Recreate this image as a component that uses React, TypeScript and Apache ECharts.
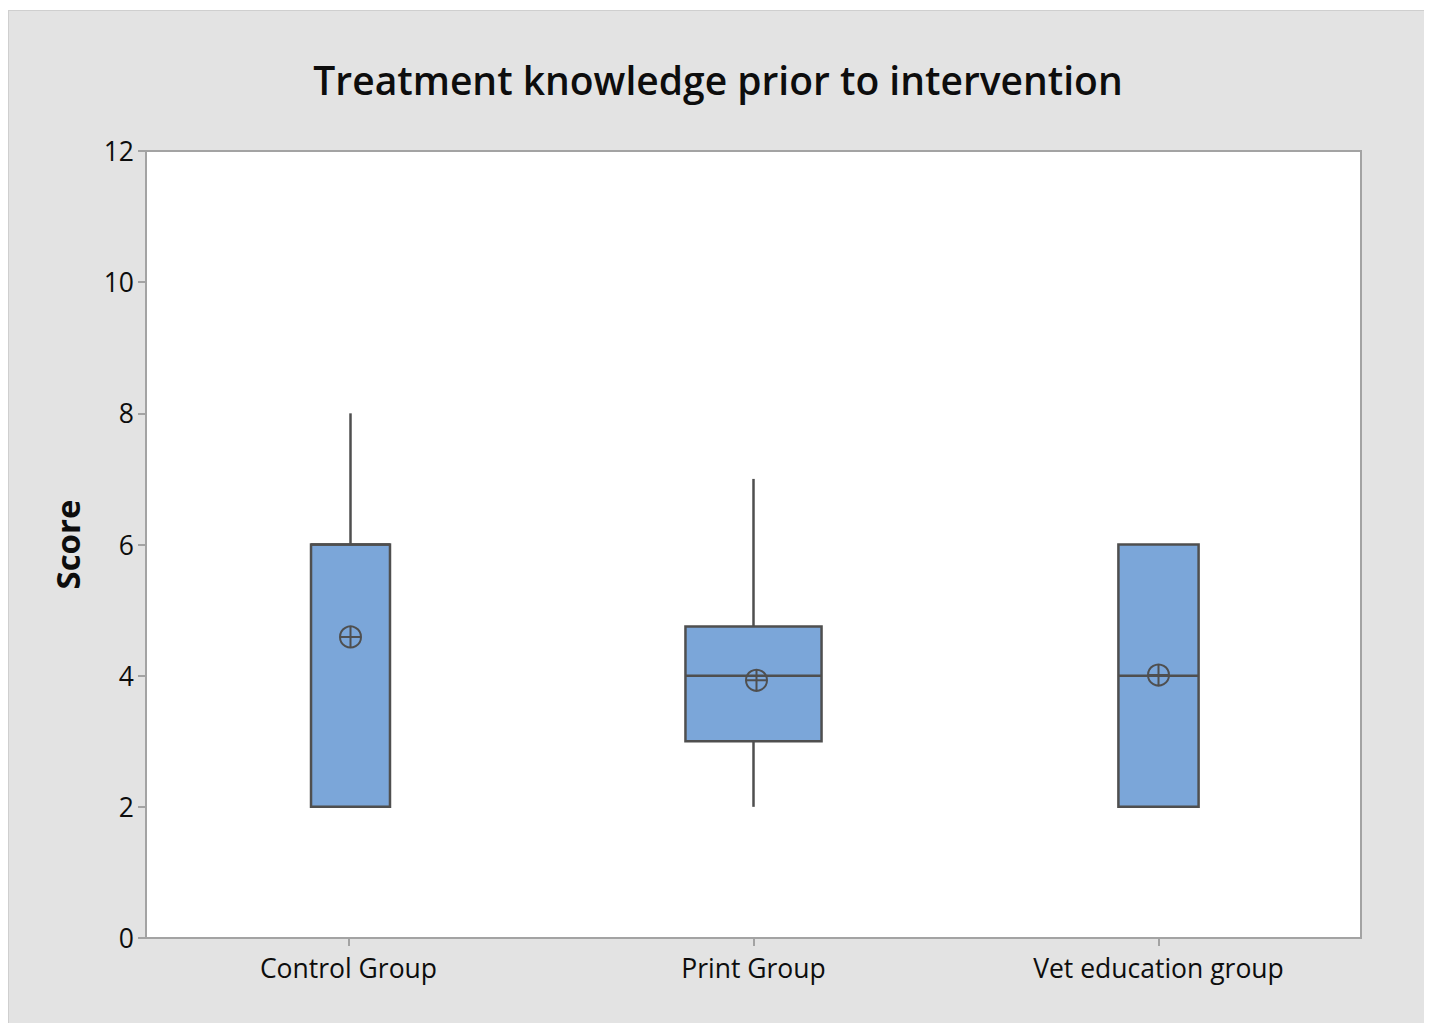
import React, { useEffect, useRef } from "react";
import * as echarts from "echarts";

const categories = ["Control Group", "Print Group", "Vet education group"];
// five-number summaries and means
const minValues = [2, 2, 2];
const q1Values = [2, 3, 2];
const medianValues = [6, 4, 4];
const q3Values = [6, 4.75, 6];
const maxValues = [8, 7, 6];
const meanValues = [4.59, 3.93, 4.01];
const yTicks = [0, 2, 4, 6, 8, 10, 12];

// box widths as a share of the category band (style only)
const boxShare = [0.195, 0.336, 0.198];

const FONT = "'Open Sans', 'Noto Sans', sans-serif";
const STROKE = "#4f4f4f";
const FILL = "#7ba6d9";

export default function App() {
  const ref = useRef<HTMLDivElement>(null);
  useEffect(() => {
    document.body.style.overflow = "hidden";
    if (!ref.current) return;
    const chart = echarts.init(ref.current, undefined, { renderer: "svg" });
    const data = categories.map((_, i) => [
      i,
      minValues[i],
      q1Values[i],
      medianValues[i],
      q3Values[i],
      maxValues[i],
      meanValues[i],
    ]);
    chart.setOption({
      animation: false,
      backgroundColor: "#e3e3e3",
      textStyle: { fontFamily: FONT },
      title: {
        text: "Treatment knowledge prior to intervention",
        left: "center",
        top: 44,
        textStyle: { fontFamily: FONT, fontSize: 39, fontWeight: 600, color: "#0d0d0d" },
      },
      grid: {
        left: 137,
        top: 140,
        width: 1215,
        height: 787,
        show: true,
        backgroundColor: "#ffffff",
        borderColor: "#a3a3a3",
        borderWidth: 2,
      },
      xAxis: {
        type: "category",
        data: categories,
        boundaryGap: true,
        axisLine: { show: true, lineStyle: { color: "#a3a3a3", width: 2 } },
        axisTick: { show: true, alignWithLabel: true, length: 8, lineStyle: { color: "#a3a3a3", width: 2 } },
        axisLabel: { color: "#0d0d0d", fontSize: 26.5, fontFamily: FONT, margin: 16 },
        splitLine: { show: false },
      },
      yAxis: {
        type: "value",
        min: 0,
        max: 12,
        interval: 2,
        name: "Score",
        nameLocation: "middle",
        nameGap: 62,
        nameTextStyle: { fontSize: 33, fontWeight: "bold", color: "#0d0d0d", fontFamily: FONT },
        axisLine: { show: true, lineStyle: { color: "#a3a3a3", width: 2 } },
        axisTick: { show: true, length: 8, lineStyle: { color: "#a3a3a3", width: 2 } },
        axisLabel: {
          color: "#0d0d0d",
          fontSize: 26.5,
          fontFamily: FONT,
          margin: 12,
          formatter: (v: number) => (yTicks.includes(v) ? String(v) : ""),
        },
        splitLine: { show: false },
      },
      series: [
        {
          type: "custom",
          data,
          encode: { x: 0, y: [1, 2, 3, 4, 5, 6] },
          renderItem: (params: any, api: any) => {
            const i = api.value(0);
            const pMin = api.coord([i, api.value(1)]);
            const pQ1 = api.coord([i, api.value(2)]);
            const pMed = api.coord([i, api.value(3)]);
            const pQ3 = api.coord([i, api.value(4)]);
            const pMax = api.coord([i, api.value(5)]);
            const pMean = api.coord([i, api.value(6)]);
            const band = api.size([1, 0])[0];
            const w = band * boxShare[params.dataIndex];
            const cx = pQ1[0] + (params.dataIndex === 0 ? 2 : 0);
            const r = 10.5;
            const lineStyle = { stroke: STROKE, lineWidth: 2.5 };
            const children: any[] = [];
            if (pMax[1] < pQ3[1]) {
              children.push({ type: "line", shape: { x1: cx, y1: pQ3[1], x2: cx, y2: pMax[1] }, style: lineStyle });
            }
            if (pMin[1] > pQ1[1]) {
              children.push({ type: "line", shape: { x1: cx, y1: pQ1[1], x2: cx, y2: pMin[1] }, style: lineStyle });
            }
            children.push({
              type: "rect",
              shape: { x: cx - w / 2, y: pQ3[1], width: w, height: pQ1[1] - pQ3[1] },
              style: { fill: FILL, stroke: STROKE, lineWidth: 2.5 },
            });
            children.push({
              type: "line",
              shape: { x1: cx - w / 2, y1: pMed[1], x2: cx + w / 2, y2: pMed[1] },
              style: lineStyle,
            });
            const mx = cx + (params.dataIndex === 1 ? 3 : 0);
            children.push({
              type: "circle",
              shape: { cx: mx, cy: pMean[1], r },
              style: { fill: "none", stroke: STROKE, lineWidth: 2 },
            });
            children.push({
              type: "line",
              shape: { x1: mx - r, y1: pMean[1], x2: mx + r, y2: pMean[1] },
              style: { stroke: STROKE, lineWidth: 2 },
            });
            children.push({
              type: "line",
              shape: { x1: mx, y1: pMean[1] - r, x2: mx, y2: pMean[1] + r },
              style: { stroke: STROKE, lineWidth: 2 },
            });
            return { type: "group", children };
          },
        },
      ],
    });
    return () => chart.dispose();
  }, []);
  return (
    <div
      style={{
        width: 1418,
        height: 1013,
        marginTop: 2,
        border: "1px solid #cfcfcf",
        borderBottom: "none",
        background: "#e3e3e3",
      }}
    >
      <div ref={ref} style={{ width: 1418, height: 1013 }} />
    </div>
  );
}
